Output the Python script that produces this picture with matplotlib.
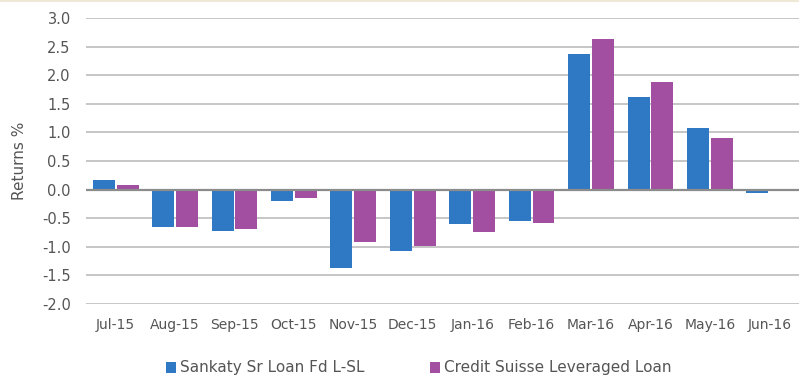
import matplotlib
matplotlib.use("Agg")
import matplotlib.pyplot as plt
import numpy as np

months = ["Jul-15", "Aug-15", "Sep-15", "Oct-15", "Nov-15", "Dec-15",
          "Jan-16", "Feb-16", "Mar-16", "Apr-16", "May-16", "Jun-16"]
sankaty = [0.17, -0.66, -0.73, -0.20, -1.37, -1.08, -0.60, -0.55, 2.37, 1.62, 1.07, -0.06]
credit_suisse = [0.08, -0.66, -0.69, -0.15, -0.91, -0.98, -0.74, -0.59, 2.63, 1.88, 0.91, 0.0]
yticks = [-2.0, -1.5, -1.0, -0.5, 0.0, 0.5, 1.0, 1.5, 2.0, 2.5, 3.0]

BLUE = "#2E78C4"
PURPLE = "#A24FA1"
TEXT = "#555555"

plt.rcParams["font.family"] = ["DejaVu Sans"]

fig = plt.figure(figsize=(7.99, 3.77), dpi=100)
ax = fig.add_axes([0.1076, 0.1936, 0.8924, 0.7584])

x = np.arange(len(months))
w = 0.37
ax.bar(x - 0.2, sankaty, w, color=BLUE, label="Sankaty Sr Loan Fd L-SL", zorder=3)
ax.bar(x + 0.2, credit_suisse, w, color=PURPLE, label="Credit Suisse Leveraged Loan", zorder=3)

ax.set_xlim(-0.5, len(months) - 0.5)
ax.set_ylim(-2.0, 3.0)
ax.set_yticks(yticks)
ax.set_yticklabels([f"{v:.1f}" for v in yticks])
ax.set_xticks(x)
ax.set_xticklabels(months)

for v in yticks:
    if v != 0:
        ax.axhline(v, color="#C6C6C6", lw=1.4, zorder=1)
ax.axhline(0, color="#8C8C8C", lw=1.6, zorder=4)

for s in ax.spines.values():
    s.set_visible(False)
ax.tick_params(axis="both", length=0, colors=TEXT)
ax.tick_params(axis="x", pad=10, labelsize=10)
ax.tick_params(axis="y", pad=11, labelsize=10.5)

ax.set_ylabel("Returns %", color=TEXT, fontsize=11)
ax.yaxis.set_label_coords(-0.083, 0.5)

fig.legend(loc="center", bbox_to_anchor=(0.524, 0.024), ncol=2, frameon=False,
           fontsize=11, labelcolor=TEXT, handlelength=0.65, handleheight=0.75,
           handletextpad=0.25, columnspacing=4.3, borderpad=0)

fig.add_artist(plt.Line2D([0, 1], [0.997, 0.997], color="#EFE8D6", lw=1.5))

fig.savefig("out.png", dpi=100, facecolor="white")
